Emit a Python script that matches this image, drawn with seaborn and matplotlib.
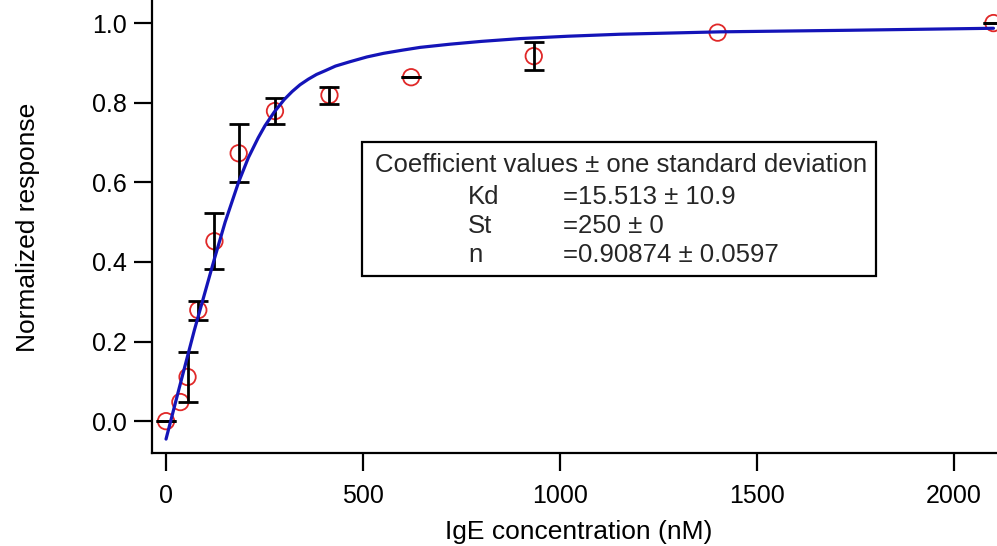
import numpy as np
import pandas as pd
import matplotlib
matplotlib.use("Agg")
import matplotlib.pyplot as plt
from matplotlib.patches import Rectangle
import seaborn as sns

# measured points (IgE dilution series, factor 1.5)
conc = [0, 36.4, 54.6, 81.9, 122.9, 184.4, 276.5, 414.8, 622.2, 933.3, 1400, 2100]
response = [0.0, 0.048, 0.111, 0.279, 0.452, 0.673, 0.779, 0.819, 0.864, 0.917, 0.976, 1.0]
response_sd = [0.0005, 0.0, 0.063, 0.024, 0.070, 0.073, 0.032, 0.021, 0.0005, 0.035, 0.0, 0.0005]

# fitted curve
fit_conc = [0, 35, 72, 122, 150, 184, 209, 234, 251, 275, 300, 320, 340, 361, 382, 403,
            430, 467, 510, 552, 600, 645, 721, 800, 898, 1020, 1152, 1406, 1736, 2100]
fit_resp = [-0.045, 0.089, 0.229, 0.405, 0.500, 0.600, 0.662, 0.712, 0.742, 0.777, 0.808,
            0.828, 0.845, 0.859, 0.871, 0.880, 0.892, 0.903, 0.915, 0.924, 0.932, 0.939,
            0.947, 0.954, 0.961, 0.967, 0.972, 0.978, 0.982, 0.987]

coef_names = ["Kd", "St", "n"]
coef_values = ["=15.513 \u00b1 10.9", "=250 \u00b1 0", "=0.90874 \u00b1 0.0597"]

sns.set_theme(style="white")
plt.rcParams["font.family"] = ["Liberation Sans", "DejaVu Sans"]

df = pd.DataFrame({"conc": conc, "response": response, "sd": response_sd})
fit = pd.DataFrame({"conc": fit_conc, "response": fit_resp})

fig = plt.figure(figsize=(9.97, 5.46), dpi=100)
ax = fig.add_axes([0.1525, 0.1703, 0.8475, 0.8297])

sns.scatterplot(data=df, x="conc", y="response", marker="o", s=140,
                facecolor="none", edgecolor="#e02828", linewidth=1.3, ax=ax, zorder=3)
err = df[df["sd"] > 0]
ax.errorbar(err["conc"], err["response"], yerr=err["sd"], fmt="none", ecolor="black",
            elinewidth=2.0, capsize=7, capthick=2.0, zorder=4)
sns.lineplot(data=fit, x="conc", y="response", color="#1414b8", linewidth=2.3,
             ax=ax, zorder=5)

ax.set_xlim(-35.5, 2109)
ax.set_ylim(-0.08, 1.058)
ax.set_xticks([0, 500, 1000, 1500, 2000])
ax.set_yticks([0.0, 0.2, 0.4, 0.6, 0.8, 1.0])
ax.set_yticklabels([f"{v:.1f}" for v in [0.0, 0.2, 0.4, 0.6, 0.8, 1.0]])

for s in ["top", "right"]:
    ax.spines[s].set_visible(False)
for s in ["left", "bottom"]:
    ax.spines[s].set_color("black")
    ax.spines[s].set_linewidth(1.6)
ax.tick_params(axis="both", which="major", direction="out", length=13, width=1.6,
               color="black", labelsize=18, labelcolor="black", bottom=True, left=True)
ax.tick_params(axis="x", pad=9)
ax.tick_params(axis="y", pad=5)
ax.grid(False)

ax.set_xlabel("IgE concentration (nM)", fontsize=19, color="black")
ax.set_ylabel("Normalized response", fontsize=19, color="black")
ax.xaxis.label.set_va("bottom")
ax.xaxis.set_label_coords(0.505, -0.2)
ax.yaxis.set_label_coords(-0.1325, 0.497)

# coefficient box
fig.patches.append(Rectangle((0.363, 0.4945), 0.5156, 0.2455, transform=fig.transFigure,
                             facecolor="white", edgecolor="black", linewidth=1.6, zorder=10))
fig.text(0.6229, 1 - 165 / 546, "Coefficient values \u00b1 one standard deviation",
         ha="center", va="center", fontsize=18.5, zorder=11)
for i, (name, val) in enumerate(zip(coef_names, coef_values)):
    yy = 1 - (196.5 + 29.5 * i) / 546
    fig.text(468 / 997, yy, name, ha="left", va="center", fontsize=18.5, zorder=11)
    fig.text(563 / 997, yy, val, ha="left", va="center", fontsize=18.5, zorder=11)

fig.savefig("out.png", dpi=100)
